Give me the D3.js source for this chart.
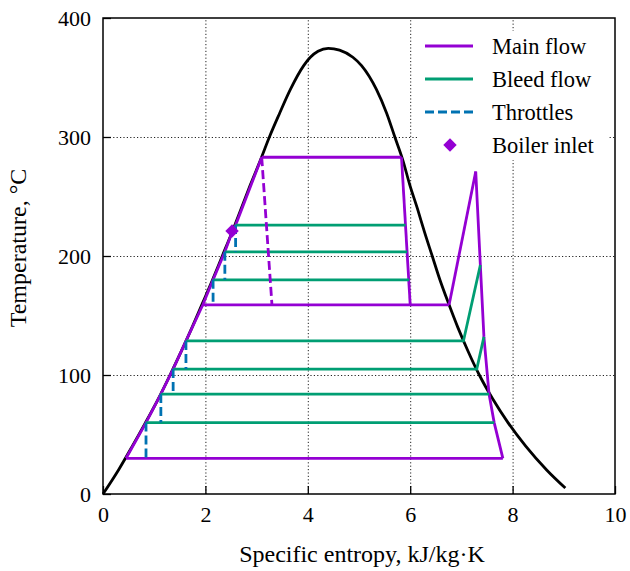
<!DOCTYPE html>
<html>
  <head>
    <meta http-equiv="Content-Type" content="text/html;charset=utf-8"/>
    <title>T-s diagram</title>
    <script src="https://d3js.org/d3.v7.min.js"></script>
    <style>
        body { margin: 0; background: #fff; }
        text { font-family: "Liberation Serif", "Times New Roman", serif; fill: #000; }
        .grid line { stroke: #222; stroke-width: 1; stroke-dasharray: 1.2,2.2; }
        .grid path { display: none; }
    </style>
</head>
  <body>
    <div id="chart"></div>
    <script>
        // saturation dome (entropy kJ/kg·K, temperature °C)
        const domeEntropy = [0, 0.30, 0.57, 0.83, 1.08, 1.31, 1.53, 1.74, 1.94, 2.14, 2.33, 2.52, 2.70, 2.88, 3.07, 3.25, 3.45, 3.66, 3.92, 4.05, 4.20, 4.40,
                             4.62, 4.88, 5.05, 5.34, 5.54, 5.70, 5.86, 5.99, 6.14, 6.28, 6.43, 6.58, 6.75, 6.93, 7.13, 7.35, 7.61, 7.91, 8.26, 8.67, 9.03];
        const domeTemp    = [0, 20, 40, 60, 80, 100, 120, 140, 160, 180, 200, 220, 240, 260, 280, 300, 320, 340, 360, 367, 372, 374.5,
                             373, 367, 360, 340, 320, 300, 280, 260, 240, 220, 200, 180, 160, 140, 120, 100, 80, 60, 40, 20, 5];

        // main flow pieces [s, T]
        const feedLine    = [[0.45, 30], [0.84, 60], [1.13, 84], [1.37, 105], [1.62, 128.6], [1.95, 159], [2.15, 180], [2.38, 203.5], [2.52, 220], [2.59, 226], [3.10, 283]];
        const boilerTop   = [[3.10, 283], [5.83, 283]];
        const hpTurbine   = [[5.83, 283], [6.00, 159]];
        const midLevel    = [[1.95, 159], [6.76, 159]];
        const reheater    = [[6.76, 159], [7.28, 271]];
        const lpTurbine   = [[7.28, 271], [7.37, 192.4], [7.44, 132], [7.54, 84], [7.64, 60], [7.81, 30]];
        const condenser   = [[7.81, 30], [0.45, 30]];
        const mainDashed  = [[3.10, 283], [3.30, 159]];

        // bleed flows
        const bleedLines = [
            [[2.59, 226], [5.91, 226]],
            [[2.38, 203.5], [5.94, 203.5]],
            [[2.15, 180], [5.98, 180]],
            [[1.62, 128.6], [7.04, 128.6], [7.37, 192.4]],
            [[1.37, 105], [7.30, 105], [7.44, 132]],
            [[1.13, 84], [7.54, 84]],
            [[0.84, 60], [7.64, 60]]
        ];

        // throttles
        const throttleLines = [
            [[2.59, 226], [2.59, 203.5]],
            [[2.38, 203.5], [2.38, 180]],
            [[2.15, 180], [2.15, 159]],
            [[1.62, 128.6], [1.62, 105]],
            [[1.37, 105], [1.37, 84]],
            [[1.13, 84], [1.13, 60]],
            [[0.84, 60], [0.84, 30]]
        ];

        const boilerInlet = [[2.52, 221]];

        const sTicks = [0, 2, 4, 6, 8, 10];
        const tTicks = [0, 100, 200, 300, 400];
        const legendNames = ["Main flow", "Bleed flow", "Throttles", "Boiler inlet"];

        const mainColor = "#9400D3", bleedColor = "#009E73", throttleColor = "#0072B2";
        const serif = "'Liberation Serif', 'Times New Roman', serif";

        const W = 630, H = 571;
        const margin = {top: 18, right: 15, bottom: 77, left: 103};

        const svg = d3.select("#chart").append("svg")
            .attr("width", W)
            .attr("height", H);

        const x = d3.scaleLinear().domain([0, 10]).range([margin.left, W - margin.right]);
        const y = d3.scaleLinear().domain([0, 400]).range([H - margin.bottom, margin.top]);

        // grid
        svg.append("g")
            .attr("class", "grid")
            .attr("transform", "translate(0," + y(0) + ")")
            .call(d3.axisBottom(x).tickValues(sTicks.slice(1, -1)).tickSize(-(y(0) - y(400))).tickFormat(""));
        svg.append("g")
            .attr("class", "grid")
            .attr("transform", "translate(" + x(0) + ",0)")
            .call(d3.axisLeft(y).tickValues(tTicks.slice(1, -1)).tickSize(-(x(10) - x(0))).tickFormat(""));

        const line = d3.line().x(d => x(d[0])).y(d => y(d[1]));

        // dome
        svg.append("path")
            .datum(d3.zip(domeEntropy, domeTemp))
            .attr("fill", "none")
            .attr("stroke", "#000")
            .attr("stroke-width", 2.8)
            .attr("d", d3.line().x(d => x(d[0])).y(d => y(d[1])).curve(d3.curveMonotoneX));

        function draw(data, color, dash) {
            svg.append("path")
                .datum(data)
                .attr("fill", "none")
                .attr("stroke", color)
                .attr("stroke-width", 2.8)
                .attr("stroke-linejoin", "miter")
                .attr("stroke-dasharray", dash || null)
                .attr("d", line);
        }

        [feedLine, boilerTop, hpTurbine, midLevel, reheater, lpTurbine, condenser].forEach(d => draw(d, mainColor));
        bleedLines.forEach(d => draw(d, bleedColor));
        throttleLines.forEach(d => draw(d, throttleColor, "9,4"));
        draw(mainDashed, mainColor, "9,4");

        const diamond = d3.symbol().type(d3.symbolSquare).size(90);
        svg.selectAll("path.inlet")
            .data(boilerInlet)
            .enter().append("path")
            .attr("class", "inlet")
            .attr("fill", mainColor)
            .attr("transform", d => "translate(" + x(d[0]) + "," + y(d[1]) + ") rotate(45)")
            .attr("d", diamond);

        // axes
        const xAxis = svg.append("g")
            .attr("transform", "translate(0," + y(0) + ")")
            .call(d3.axisBottom(x).tickValues(sTicks).tickSize(-8).tickSizeOuter(0).tickPadding(12));
        const yAxis = svg.append("g")
            .attr("transform", "translate(" + x(0) + ",0)")
            .call(d3.axisLeft(y).tickValues(tTicks).tickSize(-8).tickSizeOuter(0).tickPadding(12));
        [xAxis, yAxis].forEach(a => {
            a.select(".domain").remove();
            a.selectAll(".tick line").attr("stroke", "#000").attr("stroke-width", 1.3);
            a.selectAll(".tick text").style("font-family", serif).style("font-size", "22px");
        });

        // frame
        svg.append("rect")
            .attr("x", x(0)).attr("y", y(400))
            .attr("width", x(10) - x(0)).attr("height", y(0) - y(400))
            .attr("fill", "none").attr("stroke", "#000").attr("stroke-width", 1.5);

        svg.append("text")
            .attr("x", (x(0) + x(10)) / 2 + 3)
            .attr("y", 562)
            .attr("text-anchor", "middle")
            .style("font-family", serif)
            .style("font-size", "24px")
            .text("Specific entropy, kJ/kg·K");

        svg.append("text")
            .attr("transform", "translate(26," + 248 + ") rotate(-90)")
            .attr("text-anchor", "middle")
            .style("font-family", serif)
            .style("font-size", "24px")
            .text("Temperature, °C");

        // legend
        const legend = svg.append("g").attr("transform", "translate(419,31)");
        legend.append("rect").attr("width", 189).attr("height", 129).attr("fill", "#fff");
        const rows = legend.selectAll("g.row")
            .data(legendNames)
            .enter().append("g")
            .attr("class", "row")
            .attr("transform", (d, i) => "translate(0," + (15 + i * 33) + ")");
        rows.filter((d, i) => i < 3).append("line")
            .attr("x1", 6).attr("x2", 54)
            .attr("stroke", (d, i) => [mainColor, bleedColor, throttleColor][i])
            .attr("stroke-width", 2.8)
            .attr("stroke-dasharray", (d, i) => i === 2 ? "9,4" : null);
        rows.filter((d, i) => i === 3).append("path")
            .attr("transform", "translate(31,0) rotate(45)")
            .attr("fill", mainColor)
            .attr("d", diamond);
        rows.append("text")
            .attr("x", 73)
            .attr("dy", "0.34em")
            .style("font-family", serif)
            .style("font-size", "22.5px")
            .text(d => d);
    </script>
</body>
</html>
